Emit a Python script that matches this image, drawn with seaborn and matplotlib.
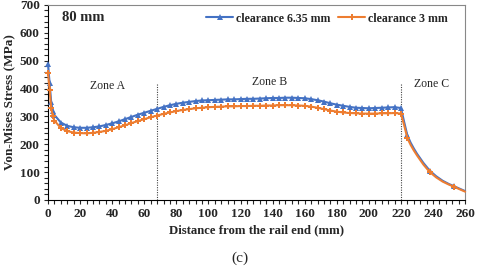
import numpy as np
import pandas as pd
import matplotlib
matplotlib.use('Agg')
import matplotlib.pyplot as plt
import seaborn as sns
from matplotlib.ticker import MultipleLocator

# Distance from the rail end (mm)
distance = [0, 1, 2, 3, 4, 8, 12, 16, 20, 24, 28, 32, 36, 40, 44, 48, 52, 56, 60, 64,
            68, 72, 76, 80, 84, 88, 92, 96, 100, 104, 108, 112, 116, 120, 124, 128,
            132, 136, 140, 144, 148, 152, 156, 160, 164, 168, 172, 176, 180, 184, 188,
            192, 196, 200, 204, 208, 212, 216, 220,
            222, 224, 226, 228, 230, 234, 238, 242, 246, 250, 253, 256, 260]

# Von-Mises stress (MPa), clearance 6.35 mm
stress_635 = [487, 420, 350, 320, 305, 278, 266, 261, 259, 259, 261, 264, 269, 275, 282,
              290, 298, 306, 313, 320, 327, 334, 340, 345, 349, 352, 355, 357, 358, 359,
              360, 361, 361, 362, 363, 363, 364, 365, 366, 366, 367, 367, 366, 365, 362,
              358, 353, 347, 342, 338, 334, 331, 330, 329, 330, 331, 332, 333, 330,
              280, 232, 206, 185, 166, 133, 105, 85, 69, 57, 50, 42, 32]

# Von-Mises stress (MPa), clearance 3 mm
stress_3 = [456, 395, 330, 300, 285, 258, 247, 242, 240, 239, 241, 244, 248, 254, 261,
            268, 276, 283, 290, 297, 303, 309, 314, 319, 323, 326, 329, 331, 333, 334,
            335, 336, 336, 337, 337, 338, 338, 339, 339, 340, 340, 340, 339, 338, 335,
            331, 326, 321, 317, 314, 312, 311, 310, 310, 310, 311, 311, 312, 310,
            268, 222, 198, 178, 160, 127, 100, 81, 66, 55, 48, 40, 30]

zone_bounds = [68, 220]
zone_labels = ['Zone A', 'Zone B', 'Zone C']
zone_label_x = [37, 138, 239]
zone_label_y = [410, 425, 415]

df = pd.DataFrame({'Distance': distance, 'c635': stress_635, 'c3': stress_3})

sns.set_style('ticks')
plt.rcParams['font.family'] = ['Liberation Serif', 'DejaVu Serif']
plt.rcParams['font.weight'] = 'bold'

# markers only on some points in zone C
marks = [i for i, v in enumerate(distance) if v <= 220 or v in (224, 238, 253)]

fig = plt.figure(figsize=(4.8, 2.71), dpi=100)
ax = fig.add_axes([0.1, 0.262, 0.869, 0.72])

sns.lineplot(data=df, x='Distance', y='c635', ax=ax, color='#4472C4', lw=1.5,
             marker='^', markersize=4, markeredgewidth=0, markevery=marks,
             label='clearance 6.35 mm', clip_on=False, zorder=3)
sns.lineplot(data=df, x='Distance', y='c3', ax=ax, color='#ED7D31', lw=1.5,
             marker='P', markersize=4, markeredgewidth=0, markevery=marks,
             label='clearance 3 mm', clip_on=False, zorder=3)

for xb in zone_bounds:
    ax.vlines(xb, 0, 420, colors='#444444', linestyles=(0, (1, 1.2)), lw=0.8)
for lab, lx, ly in zip(zone_labels, zone_label_x, zone_label_y):
    ax.text(lx, ly, lab, ha='center', va='center', fontsize=8.5, fontweight='normal')

ax.text(9, 655, '80 mm', ha='left', va='center', fontsize=10.5, fontweight='bold')

ax.set_xlim(0, 260)
ax.set_ylim(0, 700)
ax.xaxis.set_major_locator(MultipleLocator(20))
ax.xaxis.set_minor_locator(MultipleLocator(4))
ax.yaxis.set_major_locator(MultipleLocator(100))
ax.yaxis.set_minor_locator(MultipleLocator(20))
ax.tick_params(axis='both', which='major', labelsize=9.5, length=3, width=0.8,
               direction='out', pad=3)
ax.tick_params(axis='both', which='minor', length=3, width=0.8, direction='out')
for t in ax.get_xticklabels() + ax.get_yticklabels():
    t.set_fontweight('bold')

ax.set_xlabel('Distance from the rail end (mm)', fontsize=9.2, fontweight='bold', labelpad=3)
ax.set_ylabel('Von-Mises Stress (MPa)', fontsize=9.5, fontweight='bold', labelpad=3)

for side in ['top', 'right']:
    ax.spines[side].set_visible(True)
    ax.spines[side].set_color('#888888')
    ax.spines[side].set_linewidth(0.8)
for side in ['left', 'bottom']:
    ax.spines[side].set_color('black')
    ax.spines[side].set_linewidth(0.8)

ax.legend(loc='center right', bbox_to_anchor=(0.985, 0.93), ncol=2, frameon=False,
          handlelength=2.3, columnspacing=0.6, handletextpad=0.25,
          prop={'weight': 'bold', 'size': 8.6})

fig.text(0.5, 0.048, '(c)', ha='center', va='center', fontsize=11, fontweight='normal')

fig.savefig('out.png', dpi=100)
